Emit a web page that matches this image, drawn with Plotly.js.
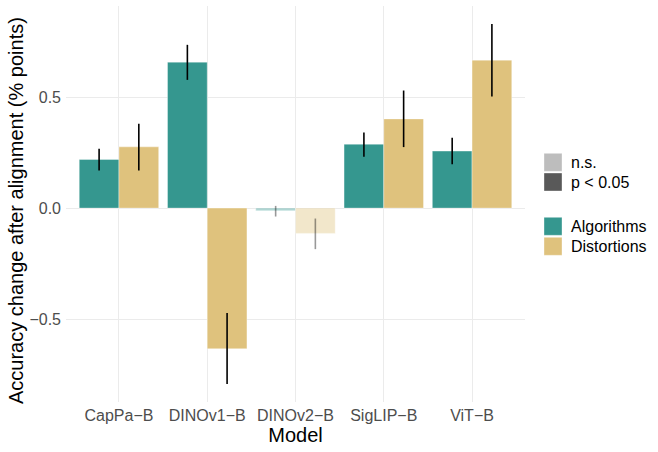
<!DOCTYPE html>
<html>
<head>
<meta charset="utf-8">
<script src="https://cdn.plot.ly/plotly-3.0.1.min.js"></script>
<style>
  html, body { margin: 0; padding: 0; background: #fff; }
  #chart { width: 658px; height: 452px; }
</style>
</head>
<body>
<div id="chart"></div>
<script>
const models = ["CapPa\u2212B", "DINOv1\u2212B", "DINOv2\u2212B", "SigLIP\u2212B", "ViT\u2212B"];

const algMean = [0.219, 0.658, -0.012, 0.288, 0.257];
const algLo = [0.169, 0.578, -0.038, 0.232, 0.198];
const algHi = [0.268, 0.736, 0.010, 0.341, 0.317];
const algSig = [true, true, false, true, true];

const distMean = [0.276, -0.634, -0.114, 0.402, 0.667];
const distLo = [0.169, -0.793, -0.185, 0.275, 0.503];
const distHi = [0.380, -0.473, -0.047, 0.530, 0.830];
const distSig = [true, true, false, true, true];

const yTickVals = [-0.5, 0, 0.5];
const yTickText = ["\u22120.5", "0.0", "0.5"];

const TEAL = [53, 151, 143];
const GOLD = [223, 194, 125];
const FONT = "Liberation Sans, Arial, sans-serif";

// panel box in pixels (ggplot panel), used to place the hand-made legend
const M = { l: 66, r: 133, t: 6, b: 50 };
const W = 658, H = 452;
const pw = W - M.l - M.r, ph = H - M.t - M.b;
const px = (x) => (x - M.l) / pw;
const py = (y) => 1 - (y - M.t) / ph;

function rgba(c, a) { return `rgba(${c[0]},${c[1]},${c[2]},${a})`; }

function makeTraces(name, mean, lo, hi, sig, col, group) {
  const out = [];
  [true, false].forEach((s) => {
    const idx = mean.map((_, i) => i).filter((i) => sig[i] === s);
    if (!idx.length) return;
    const a = s ? 1 : 0.4;
    out.push({
      type: "bar",
      name,
      offsetgroup: group,
      x: idx.map((i) => models[i]),
      y: idx.map((i) => mean[i]),
      marker: { color: rgba(col, a), line: { color: "rgba(255,255,255,0.6)", width: 0.6 } },
      error_y: {
        type: "data",
        symmetric: false,
        array: idx.map((i) => hi[i] - mean[i]),
        arrayminus: idx.map((i) => mean[i] - lo[i]),
        width: 0,
        thickness: 1.6,
        color: `rgba(0,0,0,${a})`,
      },
      hoverinfo: "skip",
      showlegend: false,
    });
  });
  return out;
}

const traces = [
  ...makeTraces("Algorithms", algMean, algLo, algHi, algSig, TEAL, "alg"),
  ...makeTraces("Distortions", distMean, distLo, distHi, distSig, GOLD, "dist"),
];

// legend keys (drawn by hand to get ggplot-style square keys)
const keys = [
  { label: "n.s.", fill: "#bdbdbd", top: 153.3 },
  { label: "p < 0.05", fill: "#595959", top: 173 },
  { label: "Algorithms", fill: rgba(TEAL, 1), top: 217.3 },
  { label: "Distortions", fill: rgba(GOLD, 1), top: 237.3 },
];
const keySize = 18;
const shapes = keys.map((k) => ({
  type: "rect", xref: "paper", yref: "paper",
  x0: px(544), x1: px(544 + keySize), y0: py(k.top + keySize), y1: py(k.top),
  fillcolor: k.fill, line: { color: "rgba(255,255,255,0.6)", width: 0.6 },
}));
const annotations = keys.map((k) => ({
  xref: "paper", yref: "paper", x: px(569), y: py(k.top + keySize / 2),
  xanchor: "left", yanchor: "middle", showarrow: false,
  text: k.label, font: { family: FONT, size: 16, color: "#000" },
}));
annotations.push({
  xref: "paper", yref: "paper", x: px(16), y: py(211),
  xanchor: "center", yanchor: "middle", showarrow: false, textangle: -90,
  text: "Accuracy change after alignment (% points)",
  font: { family: FONT, size: 20, color: "#000" },
});

const layout = {
  width: W,
  height: H,
  margin: M,
  paper_bgcolor: "#fff",
  plot_bgcolor: "#fff",
  barmode: "group",
  bargap: 0.1,
  bargroupgap: 0,
  showlegend: false,
  font: { family: FONT, size: 16, color: "#4d4d4d" },
  xaxis: {
    type: "category",
    categoryorder: "array",
    categoryarray: models,
    range: [-0.6, models.length - 0.4],
    showgrid: true,
    gridcolor: "#ebebeb",
    gridwidth: 1,
    showline: false,
    ticks: "",
    ticklabelstandoff: 2,
    tickfont: { family: FONT, size: 16, color: "#4d4d4d" },
    title: { text: "Model", font: { family: FONT, size: 20, color: "#000" }, standoff: 4 },
  },
  yaxis: {
    range: [-0.874, 0.911],
    tickvals: yTickVals,
    ticktext: yTickText,
    showgrid: true,
    gridcolor: "#ebebeb",
    gridwidth: 1,
    zeroline: false,
    showline: false,
    ticks: "",
    ticklabelstandoff: 4,
    tickfont: { family: FONT, size: 16, color: "#4d4d4d" },
  },
  shapes,
  annotations,
};

Plotly.newPlot("chart", traces, layout, { displayModeBar: false, staticPlot: true });
</script>
</body>
</html>
